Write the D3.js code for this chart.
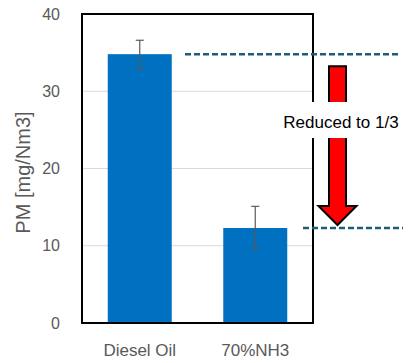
<!DOCTYPE html>
<html><head><meta charset="utf-8">
<script src="https://cdn.jsdelivr.net/npm/d3@7"></script>
<style>body{margin:0;background:#fff}svg{display:block}</style>
</head><body>
<script>
const categories = ["Diesel Oil", "70%NH3"];
const values = [34.8, 12.3];
const errHigh = [36.6, 15.1];
const errLow = [32.9, 9.6];
const yTicks = [0, 10, 20, 30, 40];
const annotation = "Reduced to 1/3";
const yTitle = "PM [mg/Nm3]";

const W = 416, H = 363;
const svg = d3.select("body").append("svg").attr("width", W).attr("height", H);
const pL = 82, pR = 313, pT = 14, pB = 323;
const x = d3.scaleBand().domain(categories).range([pL, pR]).paddingInner(0.446).paddingOuter(0.223);
const y = d3.scaleLinear().domain([0, 40]).range([pB, pT]);
const font = "'Liberation Sans', Arial, sans-serif";

// gridlines
svg.append("g").selectAll("line").data(yTicks.filter(t => t > 0 && t < 40)).join("line")
  .attr("x1", pL).attr("x2", pR).attr("y1", d => y(d)).attr("y2", d => y(d))
  .attr("stroke", "#d9d9d9").attr("stroke-width", 1);

// bars
svg.append("g").selectAll("rect").data(values).join("rect")
  .attr("x", (d, i) => x(categories[i])).attr("width", x.bandwidth())
  .attr("y", d => y(d)).attr("height", d => y(0) - y(d)).attr("fill", "#0070c0");

// error bars
const eg = svg.append("g").attr("stroke", "#595959").attr("stroke-width", 1.2);
categories.forEach((c, i) => {
  const cx = x(c) + x.bandwidth() / 2;
  eg.append("line").attr("x1", cx).attr("x2", cx).attr("y1", y(errHigh[i])).attr("y2", y(errLow[i]));
  eg.append("line").attr("x1", cx - 4).attr("x2", cx + 4).attr("y1", y(errHigh[i])).attr("y2", y(errHigh[i]));
  eg.append("line").attr("x1", cx - 4).attr("x2", cx + 4).attr("y1", y(errLow[i])).attr("y2", y(errLow[i]));
});

// frame
svg.append("rect").attr("x", pL).attr("y", pT).attr("width", pR - pL).attr("height", pB - pT)
  .attr("fill", "none").attr("stroke", "#000").attr("stroke-width", 2);

// y tick labels
svg.append("g").selectAll("text").data(yTicks).join("text")
  .attr("x", 60).attr("y", d => y(d)).attr("dy", "0.35em").attr("text-anchor", "end")
  .attr("font-family", font).attr("font-size", 16).attr("fill", "#595959").text(d => d);

// category labels
svg.append("g").selectAll("text").data(categories).join("text")
  .attr("x", d => x(d) + x.bandwidth() / 2).attr("y", 356).attr("text-anchor", "middle")
  .attr("font-family", font).attr("font-size", 17).attr("fill", "#595959").text(d => d);

// y title
svg.append("text").attr("transform", `translate(30,${(pT + pB) / 2 + 4}) rotate(-90)`)
  .attr("text-anchor", "middle").attr("font-family", font).attr("font-size", 20).attr("fill", "#595959").text(yTitle);

// dashed reference lines
const dashColor = "#1f5c7c";
svg.append("line").attr("x1", 185).attr("x2", 400).attr("y1", y(values[0])).attr("y2", y(values[0]))
  .attr("stroke", dashColor).attr("stroke-width", 2.5).attr("stroke-dasharray", "6,3");
svg.append("line").attr("x1", 303).attr("x2", 403).attr("y1", y(values[1])).attr("y2", y(values[1]))
  .attr("stroke", dashColor).attr("stroke-width", 2.5).attr("stroke-dasharray", "6,3");

// arrow
const ax = 337.5, sw = 8.5, hw = 19;
const yT = y(values[0]) + 12, yTip = y(values[1]) - 3, yHead = yTip - 19;
svg.append("path")
  .attr("d", `M${ax - sw},${yT} L${ax + sw},${yT} L${ax + sw},${yHead} L${ax + hw},${yHead} L${ax},${yTip} L${ax - hw},${yHead} L${ax - sw},${yHead} Z`)
  .attr("fill", "#ff0000").attr("stroke", "#000").attr("stroke-width", 2).attr("stroke-linejoin", "miter");

// annotation box
svg.append("rect").attr("x", 274).attr("y", 102).attr("width", 136).attr("height", 36).attr("fill", "#fff");
svg.append("text").attr("x", 341).attr("y", 128).attr("text-anchor", "middle")
  .attr("font-family", font).attr("font-size", 17).attr("fill", "#000").text(annotation);
</script>
</body></html>
